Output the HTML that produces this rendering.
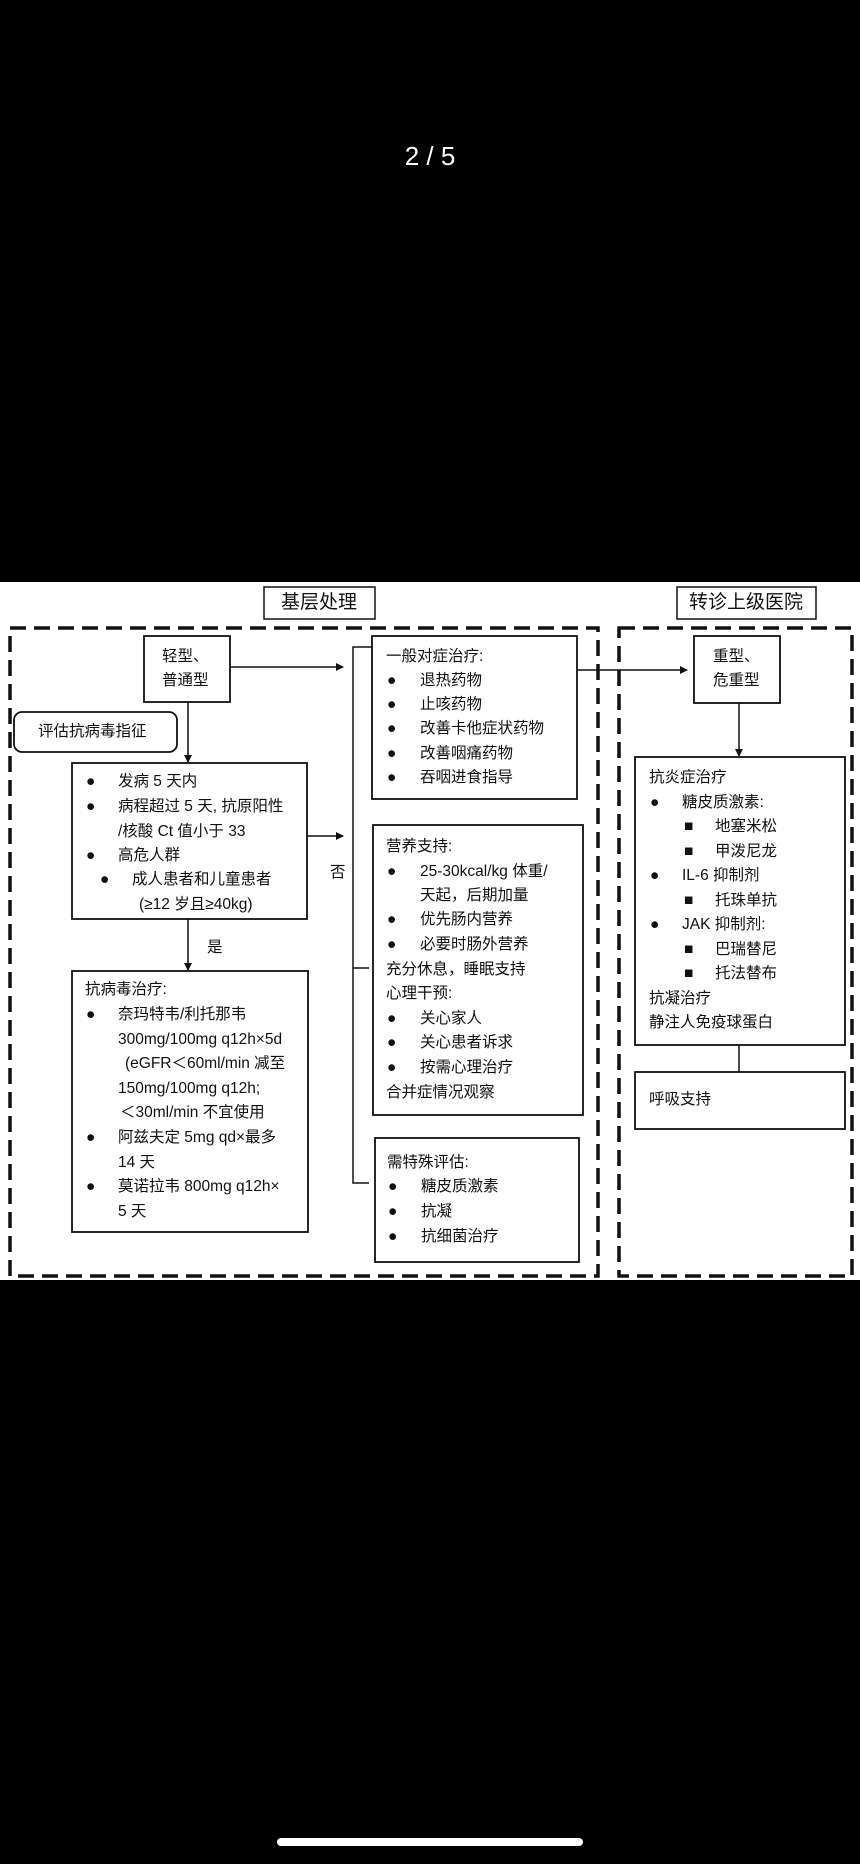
<!DOCTYPE html>
<html><head><meta charset="utf-8"><style>
html,body{margin:0;padding:0;background:#000;}
svg{display:block}
text{font-family:"Liberation Sans","Noto Sans CJK SC",sans-serif;font-size:15.5px;fill:#111;dominant-baseline:middle}
</style></head><body>
<svg width="860" height="1864" viewBox="0 0 860 1864" xmlns="http://www.w3.org/2000/svg">
<defs><marker id="a" markerWidth="8" markerHeight="8" refX="7" refY="4" orient="auto" markerUnits="userSpaceOnUse"><path d="M0,0 L8,4 L0,8 z" fill="#111"/></marker></defs>
<rect x="0" y="0" width="860" height="1864" fill="#000"/>
<text x="430" y="158" text-anchor="middle" style="fill:#fff;font-size:26px">2 / 5</text>
<rect x="277" y="1838" width="306" height="8" rx="4" fill="#fff"/>
<rect x="0" y="582" width="860" height="698" fill="#fff"/>
<g fill="none" stroke="#111">
<rect x="264" y="587" width="111" height="32" stroke-width="1.5"/>
<rect x="677" y="587" width="139" height="32" stroke-width="1.5"/>
<rect x="10" y="628" width="588" height="648" stroke-width="3.5" stroke-dasharray="16,8"/>
<rect x="619" y="628" width="233" height="648" stroke-width="3.5" stroke-dasharray="16,8"/>
<g stroke-width="1.8">
<rect x="144" y="636" width="86" height="66"/>
<rect x="14" y="712" width="163" height="40" rx="8"/>
<rect x="72" y="763" width="235" height="156"/>
<rect x="72" y="971" width="236" height="261"/>
<rect x="372" y="636" width="205" height="163"/>
<rect x="373" y="825" width="210" height="290"/>
<rect x="375" y="1138" width="204" height="124"/>
<rect x="694" y="636" width="86" height="67"/>
<rect x="635" y="757" width="210" height="288"/>
<rect x="635" y="1072" width="210" height="57"/>
</g>
<g stroke-width="1.5">
<line x1="188" y1="702" x2="188" y2="762" marker-end="url(#a)"/>
<line x1="230" y1="667" x2="343" y2="667" marker-end="url(#a)"/>
<line x1="307" y1="836" x2="343" y2="836" marker-end="url(#a)"/>
<line x1="188" y1="919" x2="188" y2="970" marker-end="url(#a)"/>
<line x1="577" y1="670" x2="687" y2="670" marker-end="url(#a)"/>
<line x1="739" y1="703" x2="739" y2="756" marker-end="url(#a)"/>
<line x1="739" y1="1045" x2="739" y2="1072"/>
<polyline points="372,647 353,647 353,1183 369,1183"/>
<line x1="353" y1="968" x2="369" y2="968"/>
</g>
</g>
<text x="319" y="603" text-anchor="middle" style="font-size:19px">基层处理</text>
<text x="746" y="603" text-anchor="middle" style="font-size:19px">转诊上级医院</text>
<text x="162" y="657">轻型、</text><text x="162" y="681">普通型</text>
<text x="38" y="732">评估抗病毒指征</text>
<text x="713" y="657">重型、</text><text x="713" y="681">危重型</text>
<text x="330" y="873">否</text>
<text x="207" y="948">是</text>
<text x="86" y="782">●</text><text x="118" y="782">发病 5 天内</text>
<text x="86" y="807">●</text><text x="118" y="807">病程超过 5 天, 抗原阳性</text>
<text x="118" y="832">/核酸 Ct 值小于 33</text>
<text x="86" y="856">●</text><text x="118" y="856">高危人群</text>
<text x="100" y="880">●</text><text x="132" y="880">成人患者和儿童患者</text>
<text x="139" y="905">(≥12 岁且≥40kg)</text>
<text x="85" y="990">抗病毒治疗:</text>
<text x="86" y="1015">●</text><text x="118" y="1015">奈玛特韦/利托那韦</text>
<text x="118" y="1040">300mg/100mg q12h×5d</text>
<text x="125" y="1064">(eGFR＜60ml/min 减至</text>
<text x="118" y="1089">150mg/100mg q12h;</text>
<text x="120" y="1113">＜30ml/min 不宜使用</text>
<text x="86" y="1138">●</text><text x="118" y="1138">阿兹夫定 5mg qd×最多</text>
<text x="118" y="1163">14 天</text>
<text x="86" y="1187">●</text><text x="118" y="1187">莫诺拉韦 800mg q12h×</text>
<text x="118" y="1212">5 天</text>
<text x="386" y="657">一般对症治疗:</text>
<text x="387" y="681">●</text><text x="420" y="681">退热药物</text>
<text x="387" y="705">●</text><text x="420" y="705">止咳药物</text>
<text x="387" y="729">●</text><text x="420" y="729">改善卡他症状药物</text>
<text x="387" y="754">●</text><text x="420" y="754">改善咽痛药物</text>
<text x="387" y="778">●</text><text x="420" y="778">吞咽进食指导</text>
<text x="386" y="847">营养支持:</text>
<text x="387" y="872">●</text><text x="420" y="872">25-30kcal/kg 体重/</text>
<text x="420" y="896">天起，后期加量</text>
<text x="387" y="920">●</text><text x="420" y="920">优先肠内营养</text>
<text x="387" y="945">●</text><text x="420" y="945">必要时肠外营养</text>
<text x="386" y="970">充分休息，睡眠支持</text>
<text x="386" y="994">心理干预:</text>
<text x="387" y="1019">●</text><text x="420" y="1019">关心家人</text>
<text x="387" y="1043">●</text><text x="420" y="1043">关心患者诉求</text>
<text x="387" y="1068">●</text><text x="420" y="1068">按需心理治疗</text>
<text x="386" y="1093">合并症情况观察</text>
<text x="387" y="1163">需特殊评估:</text>
<text x="388" y="1187">●</text><text x="421" y="1187">糖皮质激素</text>
<text x="388" y="1212">●</text><text x="421" y="1212">抗凝</text>
<text x="388" y="1237">●</text><text x="421" y="1237">抗细菌治疗</text>
<text x="649" y="778">抗炎症治疗</text>
<text x="650" y="803">●</text><text x="682" y="803">糖皮质激素:</text>
<text x="684" y="827">■</text><text x="715" y="827">地塞米松</text>
<text x="684" y="852">■</text><text x="715" y="852">甲泼尼龙</text>
<text x="650" y="876">●</text><text x="682" y="876">IL-6 抑制剂</text>
<text x="684" y="901">■</text><text x="715" y="901">托珠单抗</text>
<text x="650" y="925">●</text><text x="682" y="925">JAK 抑制剂:</text>
<text x="684" y="950">■</text><text x="715" y="950">巴瑞替尼</text>
<text x="684" y="974">■</text><text x="715" y="974">托法替布</text>
<text x="649" y="999">抗凝治疗</text>
<text x="649" y="1023">静注人免疫球蛋白</text>
<text x="649" y="1100">呼吸支持</text>
</svg>
</body></html>
